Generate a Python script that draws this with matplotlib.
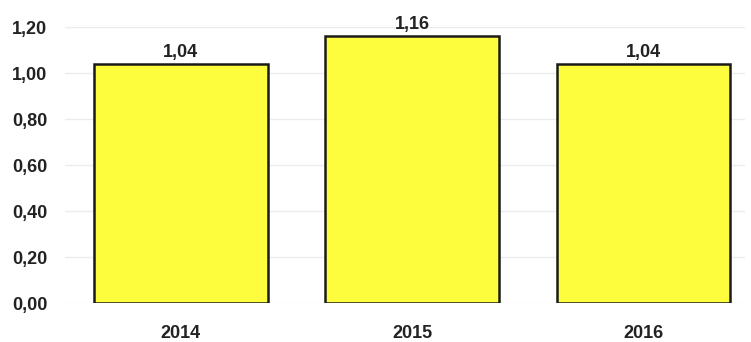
import matplotlib.pyplot as plt

annees = ['2014', '2015', '2016']
valeurs = [1.04, 1.16, 1.04]
graduations = [0.0, 0.2, 0.4, 0.6, 0.8, 1.0, 1.2]

plt.rcParams['font.family'] = ['Liberation Sans', 'DejaVu Sans']

fig = plt.figure(figsize=(7.51, 3.42), dpi=100)
ax = fig.add_axes([0.087, 0.114, 0.905, 0.807])

pos = range(len(annees))
barres = ax.bar(pos, valeurs, width=0.75, color='#fdfd3e', edgecolor='#1a1a1a', linewidth=1.8, zorder=3)

for x, v in zip(pos, valeurs):
    ax.text(x, v + 0.012, f'{v:.2f}'.replace('.', ','), ha='center', va='bottom',
            fontsize=13, fontweight='bold', color='#222222')

ax.set_xlim(-0.5, 2.44)
ax.set_ylim(0, 1.2)
ax.set_yticks(graduations)
ax.set_yticklabels([f'{g:.2f}'.replace('.', ',') for g in graduations])
ax.set_xticks(list(pos))
ax.set_xticklabels(annees)
ax.tick_params(axis='both', length=0, labelsize=13, colors='#222222')
ax.tick_params(axis='y', pad=13)
ax.tick_params(axis='x', pad=16)
for lab in ax.get_xticklabels() + ax.get_yticklabels():
    lab.set_fontweight('bold')

ax.yaxis.grid(True, color='#ececec', linewidth=1, zorder=0)
for s in ax.spines.values():
    s.set_visible(False)

fig.savefig('out.png', dpi=100)
